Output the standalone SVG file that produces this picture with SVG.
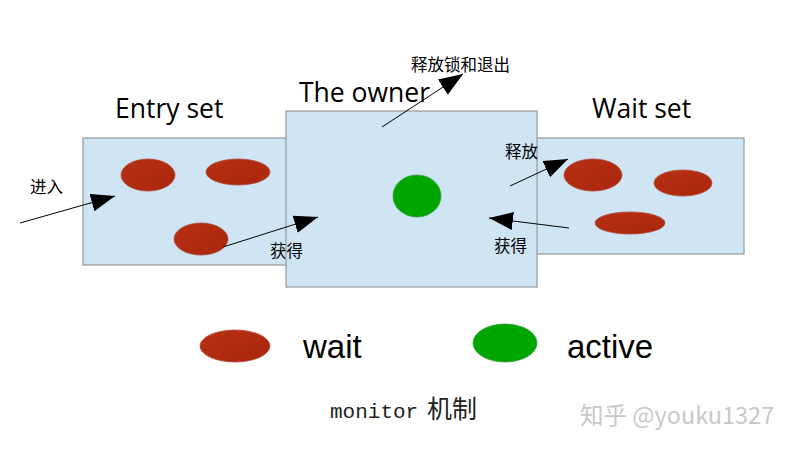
<svg xmlns="http://www.w3.org/2000/svg" width="796" height="453" viewBox="0 0 796 453">
<style>
.box{fill:#cfe5f4;stroke:#979797;stroke-width:1.2}
.wait{fill:url(#red);stroke:#b04a3a;stroke-width:0.8}
.act{fill:#00a600;stroke:#3a9a3a;stroke-width:0.8}
.title{font-family:"Open Sans","Noto Sans",sans-serif;font-size:26.5px;fill:#000}
.cn{font-family:"Noto Sans CJK SC",sans-serif;font-size:16.5px;fill:#000}
.leg{font-family:"Liberation Sans",Arial,sans-serif;font-size:33px;fill:#000}
.conn line{stroke:#000;stroke-width:1;marker-end:url(#ah)}
</style>
<defs>
<linearGradient id="red" x1="0" y1="0" x2="1" y2="1">
<stop offset="0" stop-color="#b83014"/>
<stop offset="1" stop-color="#a8260c"/>
</linearGradient>
<marker id="ah" markerUnits="userSpaceOnUse" markerWidth="26" markerHeight="20" refX="24" refY="9" orient="auto">
<path d="M0,0 L24,9 L0,18 Z" fill="#000"/>
</marker>
</defs>
<rect width="796" height="453" fill="#fff"/>
<g id="entry-set">
<rect class="box" x="83" y="138" width="205" height="127"/>
<ellipse class="wait" cx="148" cy="175" rx="27" ry="16"/>
<ellipse class="wait" cx="238" cy="172" rx="32" ry="13"/>
<ellipse class="wait" cx="201" cy="239" rx="27" ry="16"/>
<text class="title" x="115" y="118">Entry set</text>
</g>
<g id="wait-set">
<rect class="box" x="536" y="138" width="208" height="116"/>
<ellipse class="wait" cx="593" cy="175" rx="29" ry="16"/>
<ellipse class="wait" cx="683" cy="183" rx="29" ry="13"/>
<ellipse class="wait" cx="630" cy="223" rx="35" ry="11"/>
<text class="title" x="592" y="118">Wait set</text>
</g>
<g id="owner">
<rect class="box" x="286" y="111" width="251" height="176"/>
<ellipse class="act" cx="417" cy="196" rx="24" ry="21"/>
<text class="title" x="299" y="102">The owner</text>
</g>
<g class="conn" id="connectors">
<line x1="20" y1="223" x2="115" y2="196"/>
<line x1="223" y1="247" x2="318" y2="217"/>
<line x1="382" y1="127" x2="463" y2="74"/>
<line x1="569" y1="228" x2="489" y2="218"/>
<line x1="510" y1="186" x2="568" y2="159"/>
</g>
<g id="labels">
<text class="cn" x="30" y="193">进入</text>
<text class="cn" x="270" y="257">获得</text>
<text class="cn" x="494" y="252">获得</text>
<text class="cn" x="505" y="158">释放</text>
<text class="cn" x="411" y="71">释放锁和退出</text>
</g>
<g id="legend">
<ellipse class="wait" cx="235" cy="346" rx="35" ry="16"/>
<text class="leg" x="303" y="358">wait</text>
<ellipse class="act" cx="505" cy="343" rx="32" ry="19"/>
<text class="leg" x="567" y="358">active</text>
</g>
<text x="330" y="418" font-family="'Liberation Mono','Noto Sans CJK SC',monospace" font-size="21" fill="#222">monitor<tspan x="427" font-family="'Noto Sans CJK SC',sans-serif" font-size="25">机制</tspan></text>
<text x="580" y="424" font-family="'Noto Sans CJK SC','Noto Sans',sans-serif" font-size="23.5" fill="#c8c8c8">知乎 @youku1327</text>
</svg>
